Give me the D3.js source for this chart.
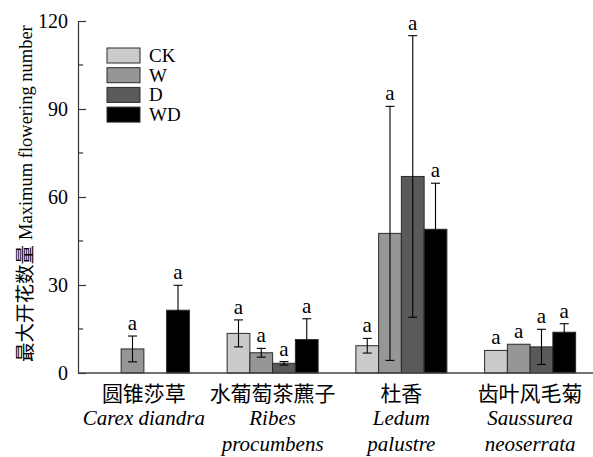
<!DOCTYPE html>
<html>
<head>
<meta charset="utf-8">
<script src="https://cdn.jsdelivr.net/npm/d3@7/dist/d3.min.js"></script>
<style>
  html, body { margin: 0; padding: 0; background: #fff; }
  svg { display: block; }
  text { font-family: "Liberation Serif", "Noto Sans CJK SC", serif; fill: #000; }
  .cjk { font-family: "Noto Sans CJK SC", "Liberation Serif", serif; }
</style>
</head>
<body>
<svg id="chart" width="593" height="457"></svg>
<script>
// ---- Data ----
const speciesCN = ["圆锥莎草", "水葡萄茶藨子", "杜香", "齿叶风毛菊"];
const speciesLatin = [["Carex diandra"], ["Ribes", "procumbens"], ["Ledum", "palustre"], ["Saussurea", "neoserrata"]];
const treatments = ["CK", "W", "D", "WD"];
const treatmentColors = ["#cbcbcb", "#969696", "#5a5a5a", "#000000"];
// mean values per treatment (null = no bar)
const meanCK = [null, 13.5, 9.3, 7.7];
const meanW  = [8.2, 6.9, 47.6, 9.8];
const meanD  = [null, 3.3, 67.0, 8.9];
const meanWD = [21.4, 11.4, 49.0, 13.9];
// error (± SE)
const errCK = [0, 4.6, 2.5, 0];
const errW  = [4.4, 1.5, 43.3, 0];
const errD  = [0, 0.6, 48.0, 6.0];
const errWD = [8.5, 7.1, 15.7, 2.9];
// significance letters
const sigCK = ["", "a", "a", "a"];
const sigW  = ["a", "a", "a", "a"];
const sigD  = ["", "a", "a", "a"];
const sigWD = ["a", "a", "a", "a"];
const yTicks = [0, 30, 60, 90, 120];
const yMinorTicks = [15, 45, 75, 105];
const yTitleCN = "最大开花数量";
const yTitleEN = "Maximum flowering number";

const means = [meanCK, meanW, meanD, meanWD];
const errs = [errCK, errW, errD, errWD];
const sigs = [sigCK, sigW, sigD, sigWD];

const rows = [];
speciesCN.forEach((sp, i) => {
  treatments.forEach((t, j) => {
    rows.push({sp, t, j, mean: means[j][i], err: errs[j][i], sig: sigs[j][i]});
  });
});

// ---- Layout ----
const svg = d3.select("#chart");
const axisX = 78, axisTop = 21, axisBottom = 373, axisRight = 593;

const x0 = d3.scaleBand().domain(speciesCN).range([79.5, 594.5]).padding(0);
const groupW = 91;
const x1 = d3.scaleBand().domain(treatments).range([0, groupW]);
const y = d3.scaleLinear().domain([0, 120]).range([axisBottom, axisTop]);
const color = d3.scaleOrdinal().domain(treatments).range(treatmentColors);
const bx = d => x0(d.sp) + (x0.bandwidth() - groupW) / 2 + x1(d.t);

// bars
const valid = rows.filter(d => d.mean != null);
svg.append("g").selectAll("rect").data(valid).join("rect")
  .attr("x", bx)
  .attr("y", d => y(d.mean))
  .attr("width", x1.bandwidth())
  .attr("height", d => y(0) - y(d.mean))
  .attr("fill", d => color(d.t))
  .attr("stroke", "#2a2a2a")
  .attr("stroke-width", 1);

// error bars
const eb = svg.append("g").attr("stroke", "#000").attr("stroke-width", 1.1);
valid.filter(d => d.err > 0).forEach(d => {
  const cx = bx(d) + x1.bandwidth() / 2;
  const yt = y(d.mean + d.err), yb = y(d.mean - d.err);
  eb.append("line").attr("x1", cx).attr("x2", cx).attr("y1", yt).attr("y2", yb);
  eb.append("line").attr("x1", cx - 4.5).attr("x2", cx + 4.5).attr("y1", yt).attr("y2", yt);
  eb.append("line").attr("x1", cx - 4.5).attr("x2", cx + 4.5).attr("y1", yb).attr("y2", yb);
});

// significance letters
svg.append("g").selectAll("text").data(valid.filter(d => d.sig)).join("text")
  .attr("x", d => bx(d) + x1.bandwidth() / 2)
  .attr("y", d => y(d.mean + d.err) - 6)
  .attr("text-anchor", "middle")
  .attr("font-size", 21)
  .text(d => d.sig);

// y axis
const yAxis = d3.axisLeft(y).tickValues(yTicks).tickSizeInner(-8).tickSizeOuter(0).tickPadding(10);
const gy = svg.append("g").attr("transform", `translate(${axisX},0)`).call(yAxis);
gy.attr("font-family", null).attr("font-size", null);
gy.select(".domain").attr("stroke", "#333").attr("stroke-width", 1.2);
gy.selectAll(".tick line").attr("stroke", "#333").attr("stroke-width", 1.2);
gy.selectAll(".tick text").attr("font-size", 20);
gy.selectAll(".minor").data(yMinorTicks).join("line")
  .attr("class", "minor")
  .attr("x1", 0).attr("x2", 5)
  .attr("y1", d => y(d)).attr("y2", d => y(d))
  .attr("stroke", "#333").attr("stroke-width", 1.2);

// x axis line
svg.append("line")
  .attr("x1", axisX).attr("x2", axisRight)
  .attr("y1", axisBottom).attr("y2", axisBottom)
  .attr("stroke", "#444").attr("stroke-width", 1.5);

// x labels
const xl = svg.append("g");
speciesCN.forEach((sp, i) => {
  const cx = x0(sp) + x0.bandwidth() / 2;
  xl.append("text").attr("class", "cjk").attr("x", cx).attr("y", 401).attr("text-anchor", "middle")
    .attr("font-size", 21)
    .text(sp);
  speciesLatin[i].forEach((ln, k) => {
    xl.append("text").attr("x", cx).attr("y", 425 + k * 26).attr("text-anchor", "middle")
      .attr("font-size", 21).attr("font-style", "italic").text(ln);
  });
});

// y title (Chinese part + English part)
const yt = svg.append("text")
  .attr("transform", `translate(32,362) rotate(-90)`)
  .attr("text-anchor", "start");
yt.append("tspan").attr("class", "cjk").attr("font-size", 19.5).text(yTitleCN);
yt.append("tspan").attr("font-size", 18.5).attr("dx", 5).text(yTitleEN);

// legend
const lg = svg.append("g").attr("transform", "translate(107,48)");
treatments.forEach((t, i) => {
  const g = lg.append("g").attr("transform", `translate(0,${i * 19.7})`);
  g.append("rect").attr("width", 33).attr("height", 15)
    .attr("fill", color(t)).attr("stroke", "#2a2a2a").attr("stroke-width", 1);
  g.append("text").attr("x", 42).attr("y", 14).attr("font-size", 19).text(t);
});
</script>
</body>
</html>
